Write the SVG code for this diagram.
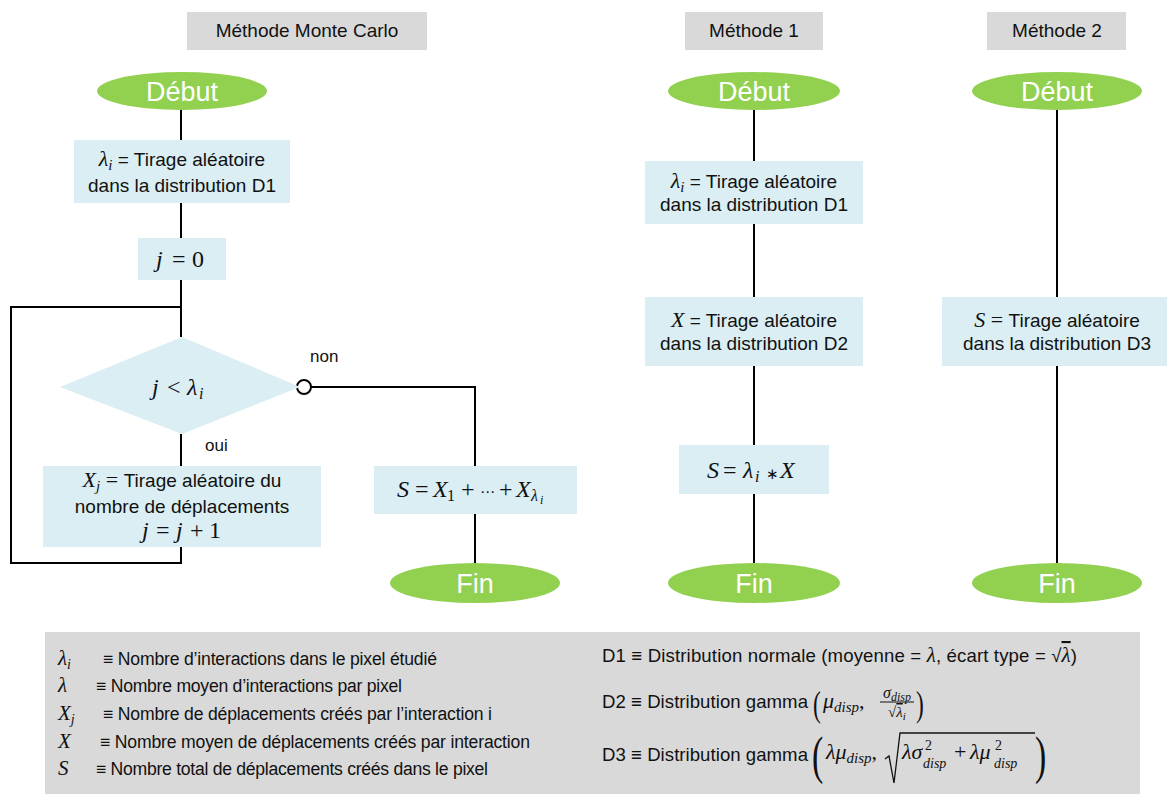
<svg xmlns="http://www.w3.org/2000/svg" width="1167" height="794" viewBox="0 0 1167 794">
<style>
.hdr{fill:#D9D9D9}
.box{fill:#DAEEF3}
.term{fill:#92D050}
.ln{stroke:#000;stroke-width:2;fill:none}
.t{font-family:"Liberation Sans",Arial,sans-serif;font-size:19px;fill:#111}
.h{font-family:"Liberation Sans",Arial,sans-serif;font-size:19px;fill:#111;text-anchor:middle}
.tt{font-family:"Liberation Sans",Arial,sans-serif;font-size:27px;fill:#fff;text-anchor:middle}
.c{text-anchor:middle}
.m{font-family:"Liberation Serif","Times New Roman",serif;font-style:italic;fill:#111}
.r{font-family:"Liberation Serif","Times New Roman",serif;font-style:normal;fill:#111}
.mx{font-family:"Liberation Serif","Times New Roman",serif;font-size:24px;fill:#111}
.lg{font-family:"Liberation Sans",Arial,sans-serif;font-size:17.6px;fill:#111}
.lg2{font-family:"Liberation Sans",Arial,sans-serif;font-size:18.6px;fill:#111}
.lbl{font-family:"Liberation Sans",Arial,sans-serif;font-size:17px;fill:#111}
</style>
<rect x="0" y="0" width="1167" height="794" fill="#fff"/>

<g id="connectors">
<line class="ln" x1="181" y1="110" x2="181" y2="337"/>
<polyline class="ln" points="181,307 11,307 11,563 181,563 181,547"/>
<line class="ln" x1="181" y1="434" x2="181" y2="466"/>
<polyline class="ln" points="311,387 475,387 475,466"/>
<line class="ln" x1="475" y1="514" x2="475" y2="565"/>
<line class="ln" x1="754" y1="110" x2="754" y2="565"/>
<line class="ln" x1="1057" y1="110" x2="1057" y2="565"/>
<circle cx="304" cy="387" r="7" fill="#fff" stroke="#000" stroke-width="2"/>
<text class="lbl" x="310" y="362">non</text>
<text class="lbl" x="205" y="451">oui</text>
</g>

<g id="hdr-mc"><rect class="hdr" x="187" y="12" width="240" height="38"/><text class="h" x="307" y="37">Méthode Monte Carlo</text></g>
<g id="hdr-m1"><rect class="hdr" x="685" y="12" width="138" height="38"/><text class="h" x="754" y="37">Méthode 1</text></g>
<g id="hdr-m2"><rect class="hdr" x="987" y="12" width="139" height="38"/><text class="h" x="1057" y="37">Méthode 2</text></g>

<g id="debut-mc"><ellipse class="term" cx="182" cy="91" rx="85" ry="19"/><text class="tt" x="182" y="101">Début</text></g>
<g id="debut-m1"><ellipse class="term" cx="754" cy="91" rx="86" ry="19"/><text class="tt" x="754" y="101">Début</text></g>
<g id="debut-m2"><ellipse class="term" cx="1057" cy="91" rx="85" ry="19"/><text class="tt" x="1057" y="101">Début</text></g>

<g id="mc-lambda">
<rect class="box" x="74" y="140" width="216" height="63"/>
<text class="t c" x="182" y="166"><tspan class="m" font-size="22">λ</tspan><tspan class="m" font-size="15" dy="4">i</tspan><tspan dy="-4"> = Tirage aléatoire</tspan></text>
<text class="t c" x="182" y="192">dans la distribution D1</text>
</g>
<g id="mc-j0">
<rect class="box" x="138" y="238" width="88" height="42"/>
<text class="mx" y="267"><tspan class="m" x="156">j</tspan><tspan x="172">=</tspan><tspan x="192">0</tspan></text>
</g>
<g id="mc-cond">
<polygon class="box" points="182,337 300,387 182,434 60,387"/>
<text class="mx" y="395"><tspan class="m" x="152">j</tspan><tspan x="167">&lt;</tspan><tspan class="m" x="187">λ</tspan><tspan class="m" font-size="16" x="199" y="399">i</tspan></text>
</g>
<g id="mc-xj">
<rect class="box" x="43" y="466" width="278" height="81"/>
<text class="t c" x="182" y="487"><tspan class="m" font-size="22">X</tspan><tspan class="m" font-size="15" dy="4">j</tspan><tspan class="r" font-size="22" dy="-4"> = </tspan><tspan>Tirage aléatoire du</tspan></text>
<text class="t c" x="182" y="513">nombre de déplacements</text>
<text class="mx" y="538"><tspan class="m" x="142">j</tspan><tspan x="156">=</tspan><tspan class="m" x="176">j</tspan><tspan x="190">+</tspan><tspan x="209">1</tspan></text>
</g>
<g id="mc-s">
<rect class="box" x="374" y="466" width="203" height="48"/>
<text class="mx" y="497"><tspan class="m" x="397">S</tspan><tspan x="415">=</tspan><tspan class="m" x="433">X</tspan><tspan font-size="16" x="447" y="501">1</tspan><tspan x="461" y="497">+</tspan><tspan x="480" font-size="15" font-family="DejaVu Sans">⋯</tspan><tspan x="499">+</tspan><tspan class="m" x="516">X</tspan><tspan class="m" font-size="16" x="531" y="501">λ</tspan><tspan class="m" font-size="12" x="540" y="504">i</tspan></text>
</g>
<g id="fin-mc"><ellipse class="term" cx="475" cy="583" rx="85" ry="20"/><text class="tt" x="475" y="593">Fin</text></g>

<g id="m1-lambda">
<rect class="box" x="645" y="161" width="218" height="63"/>
<text class="t c" x="754" y="188"><tspan class="m" font-size="22">λ</tspan><tspan class="m" font-size="15" dy="4">i</tspan><tspan dy="-4"> = Tirage aléatoire</tspan></text>
<text class="t c" x="754" y="211">dans la distribution D1</text>
</g>
<g id="m1-x">
<rect class="box" x="645" y="297" width="218" height="69"/>
<text class="t c" x="754" y="327"><tspan class="m" font-size="22">X</tspan><tspan> = Tirage aléatoire</tspan></text>
<text class="t c" x="754" y="350">dans la distribution D2</text>
</g>
<g id="m1-s">
<rect class="box" x="679" y="445" width="150" height="49"/>
<text class="mx" y="478"><tspan class="m" x="707">S</tspan><tspan x="723">=</tspan><tspan class="m" x="743">λ</tspan><tspan class="m" font-size="16" x="755" y="482">i</tspan><tspan x="766" y="479" font-size="15">∗</tspan><tspan class="m" x="780" y="478">X</tspan></text>
</g>
<g id="fin-m1"><ellipse class="term" cx="754" cy="583" rx="86" ry="20"/><text class="tt" x="754" y="593">Fin</text></g>

<g id="m2-s">
<rect class="box" x="942" y="297" width="230" height="69"/>
<text class="t c" x="1057" y="327"><tspan class="m" font-size="22">S</tspan><tspan class="r" font-size="22"> = </tspan><tspan>Tirage aléatoire</tspan></text>
<text class="t c" x="1057" y="350">dans la distribution D3</text>
</g>
<g id="fin-m2"><ellipse class="term" cx="1057" cy="583" rx="85" ry="20"/><text class="tt" x="1057" y="593">Fin</text></g>

<g id="legend">
<rect class="hdr" x="45" y="632" width="1095" height="162"/>
<text class="m" font-size="21" x="58" y="665">λ<tspan font-size="14" dy="4">i</tspan></text>
<text class="lg" x="103" y="665" textLength="334" lengthAdjust="spacing">≡ Nombre d’interactions dans le pixel étudié</text>
<text class="m" font-size="21" x="58" y="692">λ</text>
<text class="lg" x="96" y="692" textLength="306" lengthAdjust="spacing">≡ Nombre moyen d’interactions par pixel</text>
<text class="m" font-size="21" x="58" y="720">X<tspan font-size="14" dy="4">j</tspan></text>
<text class="lg" x="103" y="720" textLength="389" lengthAdjust="spacing">≡ Nombre de déplacements créés par l’interaction i</text>
<text class="m" font-size="21" x="58" y="748">X</text>
<text class="lg" x="100" y="748" textLength="430" lengthAdjust="spacing">≡ Nombre moyen de déplacements créés par interaction</text>
<text class="m" font-size="21" x="58" y="775">S</text>
<text class="lg" x="96" y="775" textLength="392" lengthAdjust="spacing">≡ Nombre total de déplacements créés dans le pixel</text>

<text class="lg2" x="602" y="662" textLength="475" lengthAdjust="spacing">D1 ≡ Distribution normale (moyenne = <tspan class="m" font-size="21">λ</tspan>, écart type = √<tspan class="m" font-size="21" style="text-decoration:overline">λ</tspan>)</text>

<text class="lg2" x="602" y="708" textLength="206" lengthAdjust="spacing">D2 ≡ Distribution gamma</text>
<text class="r" font-size="36" transform="translate(813,716) scale(0.65,1)" font-family="Liberation Sans">(</text>
<text class="m" font-size="22" x="823" y="708">μ<tspan font-size="15" dy="4">disp</tspan><tspan class="r" dy="-4">,</tspan></text>
<text class="m c" font-size="16" x="897" y="698">σ<tspan font-size="12" dy="3">disp</tspan></text>
<line x1="880" y1="702" x2="914" y2="702" stroke="#111" stroke-width="1"/>
<text class="r c" font-size="15" x="897" y="717">√<tspan class="m" style="text-decoration:overline">λ</tspan><tspan class="m" font-size="11" dy="3">i</tspan></text>
<text class="r" font-size="36" transform="translate(916,716) scale(0.65,1)" font-family="Liberation Sans">)</text>

<text class="lg2" x="602" y="761" textLength="206" lengthAdjust="spacing">D3 ≡ Distribution gamma</text>
<text class="r" font-size="52" transform="translate(812,773) scale(0.65,1)" font-family="Liberation Sans">(</text>
<text class="m" font-size="22" x="826" y="759">λμ<tspan font-size="15" dy="4">disp</tspan><tspan class="r" dy="-4">,</tspan></text>
<polyline points="885,759 889,756 894,783 900,733 1035,733" fill="none" stroke="#111" stroke-width="1.3"/>
<text class="m" font-size="22" x="902" y="759">λσ</text>
<text class="r" font-size="14" x="925" y="750">2</text>
<text class="m" font-size="14" x="923" y="768">disp</text>
<text class="r" font-size="22" x="954" y="759">+</text>
<text class="m" font-size="22" x="970" y="759">λμ</text>
<text class="r" font-size="14" x="995" y="750">2</text>
<text class="m" font-size="14" x="994" y="768">disp</text>
<text class="r" font-size="52" transform="translate(1035,773) scale(0.65,1)" font-family="Liberation Sans">)</text>
</g>
</svg>
